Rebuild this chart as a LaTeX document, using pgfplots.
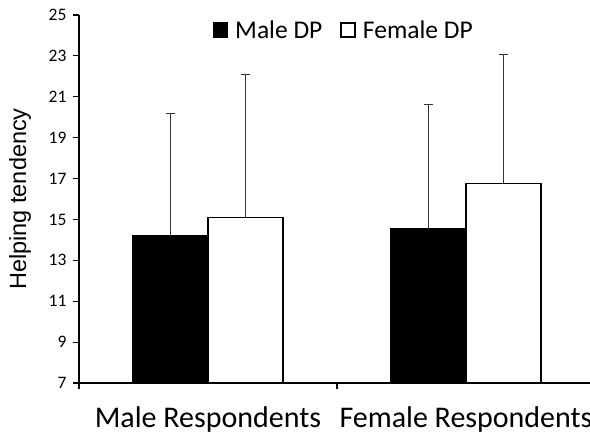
\documentclass[border=0pt]{standalone}
\usepackage{fontspec}
\setmainfont{Carlito}
\newfontfamily\arialfont{Liberation Sans}
\usepackage{pgfplots}
\pgfplotsset{compat=1.18}
\begin{document}
\begin{tikzpicture}
\useasboundingbox (0,0) rectangle (590pt,439pt);
\begin{axis}[
  at={(79pt,56pt)}, anchor=south west,
  scale only axis, width=516pt, height=368pt,
  xmin=0, xmax=2, ymin=7, ymax=25,
  axis x line*=bottom, axis y line*=left,
  axis line style={line width=1.6pt, -},
  ytick={7,9,...,25},
  xtick={0,1,2}, xticklabels={},
  extra x ticks={0.5,1.5},
  extra x tick labels={Male Respondents, Female Respondents},
  extra x tick style={major tick length=0pt, xticklabel style={font=\fontsize{30}{30}\selectfont, yshift=-20pt}},
  tick align=outside,
  major tick length=6pt,
  tick style={line width=1.2pt, black},
  /pgf/number format/assume math mode=true,
  yticklabel style={font=\fontsize{17.5}{17.5}\selectfont, xshift=-3pt},
  ylabel={\arialfont Helping tendency},
  every axis y label/.style={at={(axis description cs:-0.1143,0.5)}, rotate=90, anchor=center, font=\fontsize{23.5}{23.5}\selectfont},
  bar width=75pt,
  legend image code/.code={\draw[#1, line width=1.6pt] (0pt,-7pt) rectangle (14pt,7pt); \path (19pt,0pt);},
  legend style={draw=none, fill=none, at={(0.513,0.959)}, anchor=center, legend columns=2, font=\fontsize{25.5}{25.5}\selectfont, /tikz/every even column/.append style={column sep=16pt}},
  legend cell align=left,
]
\addplot[ybar, bar shift=0pt, fill=black, draw=black, line width=1.5pt,
  error bars/.cd, y dir=plus, y explicit,
  error bar style={line width=0.9pt, black!80},
  error mark options={rotate=90, mark size=4.5pt, line width=0.9pt, black!80}]
  coordinates {(0.355,14.2) +- (0,6.0) (1.355,14.53) +- (0,6.08)};
\addlegendentry{Male DP}
\addplot[ybar, bar shift=0pt, fill=white, draw=black, line width=1.5pt,
  error bars/.cd, y dir=plus, y explicit,
  error bar style={line width=0.9pt, black!80},
  error mark options={rotate=90, mark size=4.5pt, line width=0.9pt, black!80}]
  coordinates {(0.645,15.1) +- (0,7.0) (1.645,16.75) +- (0,6.33)};
\addlegendentry{Female DP}
\end{axis}
\end{tikzpicture}
\end{document}
